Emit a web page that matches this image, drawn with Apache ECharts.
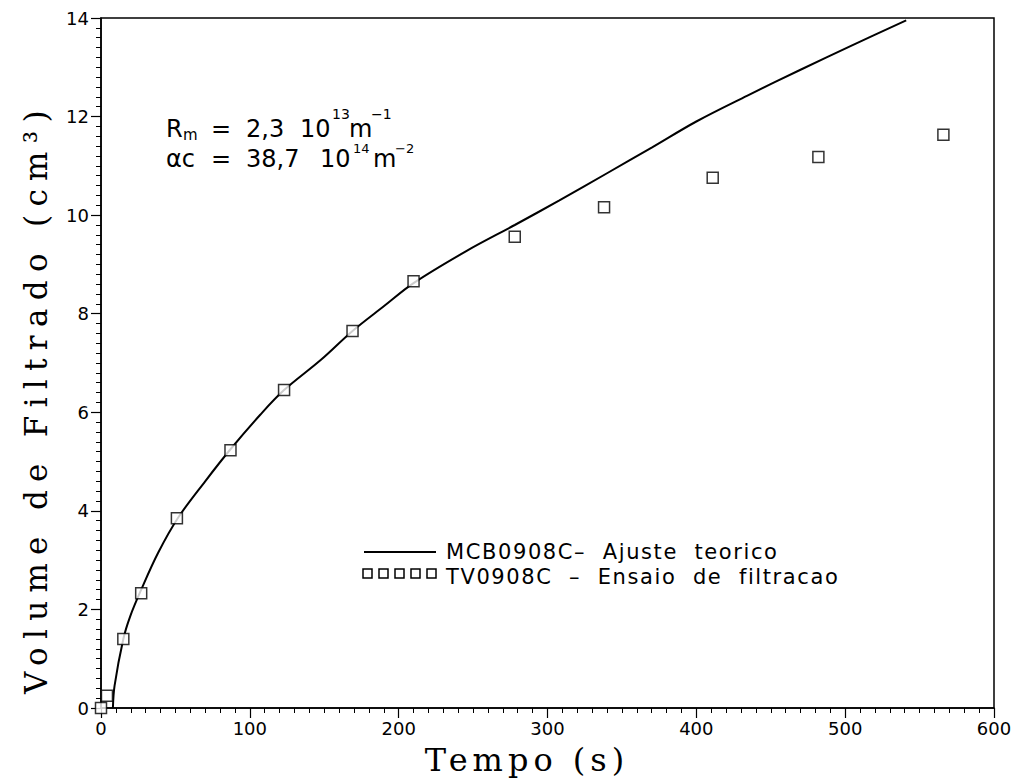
<!DOCTYPE html>
<html><head><meta charset="utf-8">
<script src="https://cdn.jsdelivr.net/npm/echarts@6/dist/echarts.min.js"></script>
<style>html,body{margin:0;padding:0;background:#fff}#c{width:1016px;height:783px}</style>
</head><body><div id="c"></div>
<script>
// Theoretical fit curve (MCB0908C)
const fitTime   = [8, 9.1, 15, 19.5, 27, 38.4, 52, 70, 87, 107, 123, 148, 169, 190, 210, 246, 278, 308, 340, 370, 400, 434, 470, 505, 541];
const fitVolume = [0, 0.45, 1.4, 1.85, 2.4, 3.15, 3.87, 4.6, 5.25, 5.95, 6.45, 7.07, 7.65, 8.15, 8.62, 9.28, 9.8, 10.3, 10.85, 11.37, 11.9, 12.42, 12.95, 13.45, 13.95];
// Experimental points (TV0908C)
const expTime   = [0, 4, 15, 27, 51, 87, 123, 169, 210, 278, 338, 411, 482, 566];
const expVolume = [0, 0.25, 1.4, 2.33, 3.85, 5.23, 6.45, 7.65, 8.66, 9.56, 10.16, 10.76, 11.18, 11.63];
// Axis settings
const xRange = [0, 600, 100];
const yRange = [0, 14, 2];
const xTitle = 'Tempo (s)';
const yTitle = 'Volume de Filtrado (cm\u00b3)';
const seriesNames = ['MCB0908C\u2013  Ajuste  teorico', 'TV0908C  \u2013  Ensaio  de  filtracao'];

const fitData = fitTime.map((t, i) => [t, fitVolume[i]]);
const expData = expTime.map((t, i) => [t, expVolume[i]]);

const chart = echarts.init(document.getElementById('c'), null, {renderer: 'svg'});
const sans = 'DejaVu Sans';
const serif = 'DejaVu Serif';
const ann = (text, x, y, size) => ({type: 'text', left: x, top: y, z: 10,
  style: {text: text, font: size + 'px "' + sans + '"', fill: '#000', lineHeight: Math.round(size * 0.75)}});

const legendSquares = [0, 1, 2, 3, 4].map(k => ({
  type: 'rect', shape: {x: 363 + k * 16, y: 569, width: 9, height: 9},
  style: {fill: '#fff', stroke: '#000', lineWidth: 1.5}
}));

chart.setOption({
  animation: false,
  backgroundColor: '#fff',
  grid: {left: 101, right: 22, top: 18, bottom: 75, show: true, borderColor: '#000', borderWidth: 1.5},
  xAxis: {
    type: 'value', min: xRange[0], max: xRange[1], interval: xRange[2],
    axisLine: {show: true, onZero: false, lineStyle: {color: '#000', width: 1.5}},
    axisTick: {show: true, inside: false, length: 10, lineStyle: {color: '#000', width: 1.2}},
    minorTick: {show: true, splitNumber: 10, length: 5, lineStyle: {color: '#000', width: 1}},
    axisLabel: {fontFamily: sans, fontSize: 18, color: '#000', margin: 11},
    splitLine: {show: false}, minorSplitLine: {show: false}
  },
  yAxis: {
    type: 'value', min: yRange[0], max: yRange[1], interval: yRange[2],
    axisLine: {show: true, onZero: false, lineStyle: {color: '#000', width: 1.5}},
    axisTick: {show: true, inside: false, length: 10, lineStyle: {color: '#000', width: 1.2}},
    minorTick: {show: true, splitNumber: 10, length: 5, lineStyle: {color: '#000', width: 1}},
    axisLabel: {fontFamily: sans, fontSize: 18, color: '#000', margin: 12},
    splitLine: {show: false}, minorSplitLine: {show: false}
  },
  series: [
    {name: seriesNames[0], type: 'line', data: fitData, smooth: 0.35,
     showSymbol: false, lineStyle: {color: '#000', width: 2}, z: 2},
    {name: seriesNames[1], type: 'scatter', data: expData, symbol: 'rect', symbolSize: 11,
     itemStyle: {color: '#fff', borderColor: '#000', borderWidth: 1.5}, z: 3}
  ],
  graphic: [
    {type: 'text', x: 527, y: 760, z: 10, style: {text: xTitle, font: '32px "' + serif + '"', fill: '#000', align: 'center', verticalAlign: 'middle'}},
    {type: 'text', x: 36, y: 398, rotation: Math.PI / 2, z: 10, style: {text: yTitle, font: '31px "' + serif + '"', fill: '#000', align: 'center', verticalAlign: 'middle'}},
    ann('R', 166, 117, 24), ann('m', 183, 127, 15), ann('=', 211, 117, 24),
    ann('2,3', 246, 117, 24), ann('10', 300, 117, 24), ann('13', 332, 107, 14),
    ann('m', 349, 117, 24), ann('\u22121', 371, 107, 14),
    ann('\u03b1c', 166, 147, 24), ann('=', 211, 147, 24),
    ann('38,7', 246, 147, 24), ann('10', 320, 147, 24), ann('14', 353, 142, 13),
    ann('m', 373, 147, 24), ann('\u22122', 395, 142, 13),
    {type: 'line', shape: {x1: 364, y1: 552, x2: 436, y2: 552}, style: {stroke: '#000', lineWidth: 2}},
    ...legendSquares,
    {type: 'text', left: 446, top: 541, style: {text: seriesNames[0], font: '21px "' + sans + '"', fill: '#000', lineHeight: 18}},
    {type: 'text', left: 446, top: 566, style: {text: seriesNames[1], font: '21px "' + sans + '"', fill: '#000', lineHeight: 18}}
  ]
});

function spaceTitles() {
  document.querySelectorAll('#c svg text').forEach(el => {
    const t = el.textContent;
    if (t === xTitle) el.setAttribute('letter-spacing', '5px');
    else if (t === yTitle) el.setAttribute('letter-spacing', '8.3px');
    else if (t === seriesNames[0] || t === seriesNames[1]) el.setAttribute('letter-spacing', '1.6px');
  });
}
chart.on('finished', spaceTitles);
spaceTitles();
setTimeout(spaceTitles, 0);
setTimeout(spaceTitles, 200);
</script></body></html>
